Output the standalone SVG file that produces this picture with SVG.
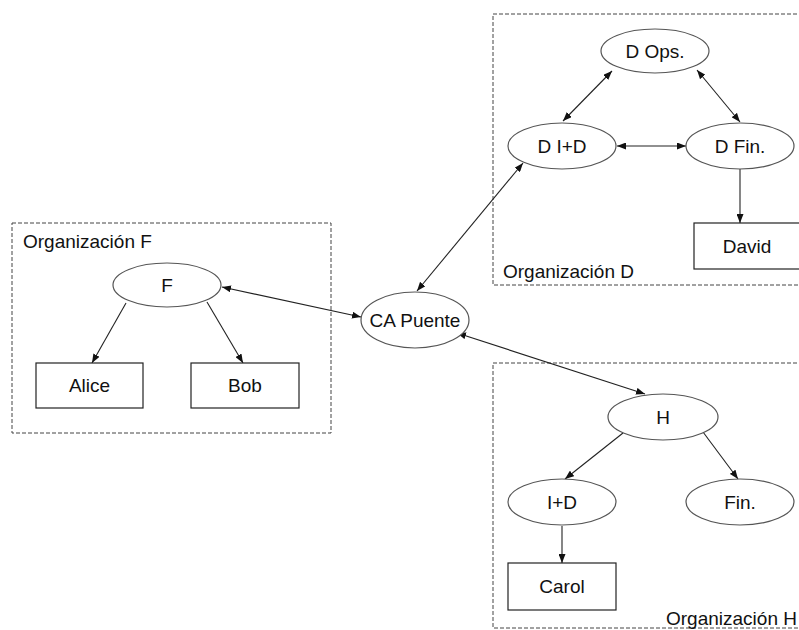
<svg xmlns="http://www.w3.org/2000/svg" width="799" height="630" viewBox="0 0 799 630">
<defs>
<marker id="ah" viewBox="0 0 9 7" refX="9" refY="3.5" markerWidth="9" markerHeight="7" markerUnits="userSpaceOnUse" orient="auto-start-reverse">
<path d="M0,0 L9,3.5 L0,7 z" fill="#111"/>
</marker>
<style>
.grp{fill:none;stroke:#444;stroke-width:1;stroke-dasharray:4 2}
.ell{fill:#fff;stroke:#555;stroke-width:1.2}
.box{fill:#fff;stroke:#222;stroke-width:1.2}
.t{font-family:"Liberation Sans",Arial,sans-serif;font-size:19px;fill:#111}
.m{text-anchor:middle}
.c{fill:none;stroke:#222;stroke-width:1.1}
.one{marker-end:url(#ah)}
.two{marker-start:url(#ah);marker-end:url(#ah)}
</style>
</defs>
<rect width="799" height="630" fill="#fff"/>

<g id="org-f">
<rect class="grp" x="12" y="223" width="319" height="210"/>
<text class="t" x="23" y="248">Organización F</text>
</g>
<g id="org-d">
<rect class="grp" x="493" y="14" width="320" height="271"/>
<text class="t" x="503" y="278">Organización D</text>
</g>
<g id="org-h">
<rect class="grp" x="493" y="363" width="320" height="265"/>
<text class="t" x="666" y="625">Organización H</text>
</g>

<g id="connectors">
<line class="c two" x1="222" y1="287" x2="361" y2="317"/>
<line class="c two" x1="417" y1="291" x2="523" y2="163"/>
<line class="c two" x1="457" y1="333" x2="645" y2="394"/>
<line class="c two" x1="612" y1="71" x2="563" y2="121"/>
<line class="c two" x1="697" y1="70" x2="740" y2="122"/>
<line class="c two" x1="617" y1="146" x2="686" y2="146"/>
<line class="c one" x1="740" y1="169" x2="740" y2="223"/>
<line class="c one" x1="126" y1="303" x2="92" y2="363"/>
<line class="c one" x1="207" y1="302" x2="243" y2="363"/>
<line class="c one" x1="623" y1="433" x2="565" y2="479"/>
<line class="c one" x1="703" y1="432" x2="738" y2="479"/>
<line class="c one" x1="562" y1="526" x2="562" y2="563"/>
</g>

<g id="node-f">
<ellipse class="ell" cx="167" cy="285" rx="54" ry="22"/>
<text class="t m" x="167" y="292">F</text>
</g>
<g id="node-alice">
<rect class="box" x="36" y="363" width="107" height="45"/>
<text class="t m" x="89.5" y="392">Alice</text>
</g>
<g id="node-bob">
<rect class="box" x="191" y="363" width="108" height="45"/>
<text class="t m" x="245" y="392">Bob</text>
</g>
<g id="node-ca">
<ellipse class="ell" cx="415" cy="320" rx="54" ry="28"/>
<text class="t m" x="415" y="327">CA Puente</text>
</g>
<g id="node-dops">
<ellipse class="ell" cx="655" cy="51" rx="54" ry="22"/>
<text class="t m" x="655" y="58">D Ops.</text>
</g>
<g id="node-did">
<ellipse class="ell" cx="562" cy="146" rx="54" ry="23"/>
<text class="t m" x="562" y="153">D I+D</text>
</g>
<g id="node-dfin">
<ellipse class="ell" cx="740" cy="146" rx="54" ry="23"/>
<text class="t m" x="740" y="153">D Fin.</text>
</g>
<g id="node-david">
<rect class="box" x="694" y="223" width="110" height="46"/>
<text class="t m" x="747" y="253">David</text>
</g>
<g id="node-h">
<ellipse class="ell" cx="663" cy="417" rx="55" ry="23"/>
<text class="t m" x="663" y="424">H</text>
</g>
<g id="node-hid">
<ellipse class="ell" cx="562" cy="502" rx="54" ry="23"/>
<text class="t m" x="562" y="509">I+D</text>
</g>
<g id="node-hfin">
<ellipse class="ell" cx="740" cy="502" rx="54" ry="23"/>
<text class="t m" x="740" y="509">Fin.</text>
</g>
<g id="node-carol">
<rect class="box" x="508" y="563" width="108" height="47"/>
<text class="t m" x="562" y="593">Carol</text>
</g>
</svg>
